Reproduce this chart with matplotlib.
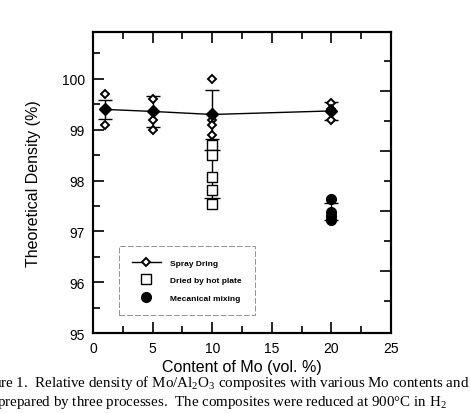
import matplotlib
matplotlib.use("Agg")
import matplotlib.pyplot as plt
from matplotlib.lines import Line2D
from matplotlib.ticker import MultipleLocator, FixedLocator

plt.rcParams['font.family'] = ['Liberation Sans', 'DejaVu Sans']
plt.rcParams['mathtext.fontset'] = 'custom'
plt.rcParams['mathtext.rm'] = 'Liberation Serif'

# spray drying: mean values with error bars, plus the single measurements
spray_x = [1, 5, 10, 20]
spray_mean = [99.4, 99.36, 99.3, 99.37]
spray_err = [0.19, 0.3, 0.48, 0.17]
spray_pts_x = [1, 1, 1, 5, 5, 5, 5, 10, 10, 10, 10, 10, 20, 20, 20, 20]
spray_pts_y = [99.7, 99.4, 99.1, 99.6, 99.35, 99.2, 99.0,
               100.0, 99.3, 99.2, 99.1, 98.9, 99.53, 99.4, 99.35, 99.2]

# dried by hot plate (10 vol.% only)
hot_x = [10, 10, 10, 10, 10]
hot_y = [98.7, 98.5, 98.08, 97.82, 97.53]
hot_mean = [98.13]
hot_err = [0.47]

# mechanical mixing (20 vol.% only)
mech_x = [20, 20, 20, 20]
mech_y = [97.63, 97.38, 97.3, 97.22]
mech_mean = [97.39]
mech_err = [0.17]

labels = ['Spray Dring', 'Dried by hot plate', 'Mecanical mixing']

fig = plt.figure(figsize=(4.70, 4.14), dpi=100)
ax = fig.add_axes([0.198, 0.193, 0.634, 0.727])

# spray drying
ax.errorbar(spray_x, spray_mean, yerr=spray_err, fmt='none', ecolor='black',
            elinewidth=1.0, capsize=5, capthick=1.0, zorder=2)
ax.plot(spray_x, spray_mean, '-', color='black', lw=1.0, zorder=2)
ax.plot(spray_pts_x, spray_pts_y, 'D', ms=4.5, mfc='white', mec='black',
        mew=1.4, ls='none', zorder=3)
ax.plot(spray_x, spray_mean, 'D', ms=6, color='black', ls='none', zorder=4)

# hot plate
ax.errorbar([10], hot_mean, yerr=hot_err, fmt='none', ecolor='black',
            elinewidth=1.0, capsize=6, capthick=1.0, zorder=2)
ax.plot(hot_x, hot_y, 's', ms=7, mfc='white', mec='black', mew=1.0,
        ls='none', zorder=3)

# mechanical mixing
ax.errorbar([20], mech_mean, yerr=mech_err, fmt='none', ecolor='black',
            elinewidth=1.0, capsize=5, capthick=1.0, zorder=2)
ax.plot(mech_x, mech_y, 'o', ms=7, color='black', ls='none', zorder=3)

ax.set_xlim(0, 25)
ax.set_ylim(95, 100.92)
ax.xaxis.set_major_locator(MultipleLocator(5))
ax.xaxis.set_minor_locator(MultipleLocator(2.5))
ax.yaxis.set_major_locator(MultipleLocator(1))
ax.yaxis.set_minor_locator(MultipleLocator(0.5))
ax.tick_params(which='both', direction='in', width=1.2, labelsize=10,
               top=True, right=False)
ax.tick_params(which='major', length=8, pad=6)
ax.tick_params(which='minor', length=5)
for s in ax.spines.values():
    s.set_linewidth(1.5)

# right axis has its own unlabeled tick spacing in the original
ax2 = ax.twinx()
ax2.set_ylim(-1.07, 8.97)
ax2.yaxis.set_major_locator(FixedLocator([1, 3, 5, 7]))
ax2.yaxis.set_minor_locator(FixedLocator([0, 2, 4, 6, 8]))
ax2.tick_params(which='both', direction='in', width=1.2, labelright=False)
ax2.tick_params(which='major', length=8)
ax2.tick_params(which='minor', length=5)
for s in ax2.spines.values():
    s.set_linewidth(1.5)

ax.set_xlabel('Content of Mo (vol. %)', fontsize=11.5)
ax.xaxis.set_label_coords(0.5, -0.11)
ax.xaxis.label.set_va('center')
ax.set_ylabel('Theoretical Density (%)', fontsize=11.5)
ax.yaxis.set_label_coords(-0.2, 0.5)
ax.yaxis.label.set_va('center')

handles = [
    Line2D([], [], color='black', lw=1.0, marker='D', ms=4.5, mfc='white',
           mec='black', mew=1.4),
    Line2D([], [], ls='none', marker='s', ms=7, mfc='white', mec='black', mew=1.0),
    Line2D([], [], ls='none', marker='o', ms=7, color='black'),
]
leg = ax2.legend(handles, labels, loc='lower left',
                 bbox_to_anchor=(0.087, 0.06), prop={'size': 6, 'weight': 'bold'},
                 handlelength=3.4, handletextpad=1.1, labelspacing=1.15,
                 borderpad=1.6, borderaxespad=0, fancybox=False, numpoints=1)
frame = leg.get_frame()
frame.set_linestyle((0, (6, 2)))
frame.set_edgecolor('#777777')
frame.set_linewidth(0.7)

# caption is cropped at the left edge in the original scan
cap1 = r'Figure 1.  Relative density of Mo/Al$_2$O$_3$ composites with various Mo contents and'
cap2 = r'prepared by three processes.  The composites were reduced at 900°C in H$_2$'
fig.text(469 / 470, 1 - 383 / 414, cap1, ha='right', va='center',
         fontsize=10.8, family=['Liberation Serif', 'DejaVu Serif'])
fig.text(447 / 470, 1 - 403 / 414, cap2, ha='right', va='center',
         fontsize=10.8, family=['Liberation Serif', 'DejaVu Serif'])

fig.savefig('out.png', dpi=100)
